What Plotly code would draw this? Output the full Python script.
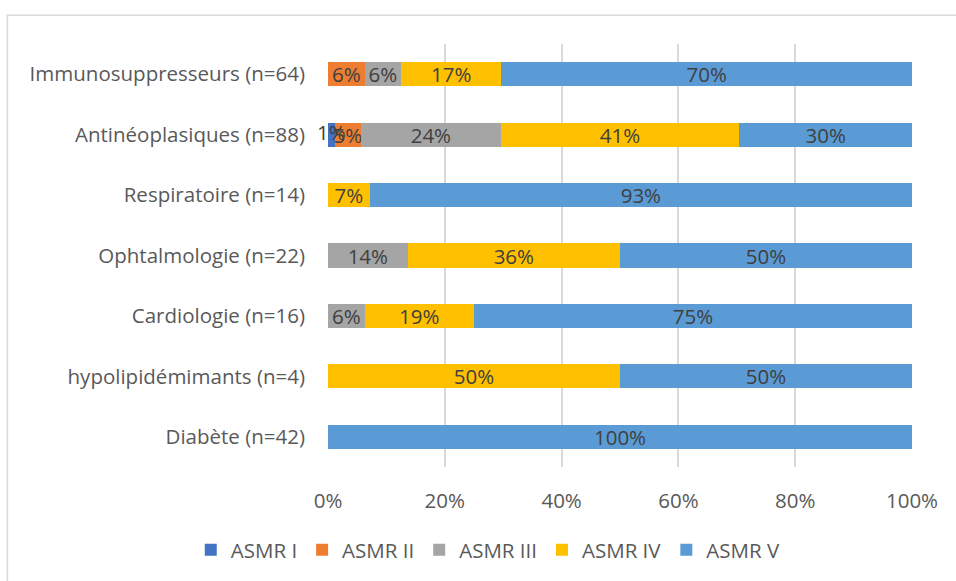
import plotly.graph_objects as go

# Therapeutic classes (bottom to top) and number of products per ASMR level
categories = [
    "Diabète (n=42)",
    "hypolipidémimants (n=4)",
    "Cardiologie (n=16)",
    "Ophtalmologie (n=22)",
    "Respiratoire (n=14)",
    "Antinéoplasiques (n=88)",
    "Immunosuppresseurs (n=64)",
]
totals = [42, 4, 16, 22, 14, 88, 64]

asmr_i = [0, 0, 0, 0, 0, 1, 0]
asmr_ii = [0, 0, 0, 0, 0, 4, 4]
asmr_iii = [0, 0, 1, 3, 0, 21, 4]
asmr_iv = [0, 2, 3, 8, 1, 36, 11]
asmr_v = [42, 2, 12, 11, 13, 26, 45]

series_names = ["ASMR I", "ASMR II", "ASMR III", "ASMR IV", "ASMR V"]
series_counts = [asmr_i, asmr_ii, asmr_iii, asmr_iv, asmr_v]
series_colors = ["#4472C4", "#ED7D31", "#A5A5A5", "#FFC000", "#5B9BD5"]

x_ticks = [0, 20, 40, 60, 80, 100]

FONT = "Open Sans"
SIZE = 20.5
LABEL_COLOR = "#404040"

fig = go.Figure()
cumulative = [0.0] * len(categories)
overlay_x, overlay_y, overlay_text = [], [], []
for i, (name, counts, color) in enumerate(zip(series_names, series_counts, series_colors)):
    pct = [100.0 * c / t for c, t in zip(counts, totals)]
    labels = [f"{round(p)}%" if c > 0 else "" for p, c in zip(pct, counts)]
    # the thin first segment gets its label drawn on top of the stack
    bar_text = labels if i > 0 else [""] * len(labels)
    if i == 0:
        for cat, p, lab, base in zip(categories, pct, labels, cumulative):
            if lab:
                overlay_x.append(base + p / 2)
                overlay_y.append(cat)
                overlay_text.append(lab)
    cumulative = [b + p for b, p in zip(cumulative, pct)]
    fig.add_trace(go.Bar(
        y=categories,
        x=pct,
        name=name,
        orientation="h",
        marker=dict(color=color, line=dict(width=0)),
        text=bar_text,
        textposition="inside",
        insidetextanchor="middle",
        textangle=0,
        constraintext="none",
        textfont=dict(family=FONT, size=SIZE, color=LABEL_COLOR),
        hoverinfo="skip",
    ))

fig.add_trace(go.Scatter(
    x=overlay_x,
    y=overlay_y,
    mode="text",
    text=overlay_text,
    textposition="middle center",
    textfont=dict(family=FONT, size=SIZE, color=LABEL_COLOR),
    showlegend=False,
    hoverinfo="skip",
    cliponaxis=False,
))

fig.update_layout(
    barmode="stack",
    bargap=0.6,
    width=956,
    height=581,
    margin=dict(l=328, r=44, t=44, b=113),
    paper_bgcolor="white",
    plot_bgcolor="white",
    font=dict(family=FONT, size=SIZE, color="#595959"),
    showlegend=True,
    legend=dict(
        orientation="h",
        x=-0.235,
        xanchor="left",
        y=-0.193,
        yanchor="middle",
        font=dict(family=FONT, size=SIZE, color="#595959"),
        itemwidth=30,
        traceorder="normal",
    ),
    shapes=[dict(
        type="rect",
        xref="paper", yref="paper",
        x0=-0.549, x1=1.2, y0=-0.5, y1=1.068,
        line=dict(color="#D9D9D9", width=1.5),
        fillcolor="rgba(0,0,0,0)",
        layer="below",
    )],
)

fig.update_xaxes(
    range=[0, 100],
    tickvals=x_ticks,
    ticktext=[f"{v}%" for v in x_ticks],
    showgrid=True,
    gridcolor="#D9D9D9",
    gridwidth=1.5,
    zeroline=False,
    showline=False,
    ticks="",
    ticklabelstandoff=19,
    tickfont=dict(family=FONT, size=SIZE, color="#595959"),
    fixedrange=True,
)
fig.update_yaxes(
    showgrid=False,
    showline=False,
    ticks="",
    ticklabelstandoff=22,
    tickfont=dict(family=FONT, size=SIZE, color="#595959"),
    fixedrange=True,
)

fig.write_html("out.html")
